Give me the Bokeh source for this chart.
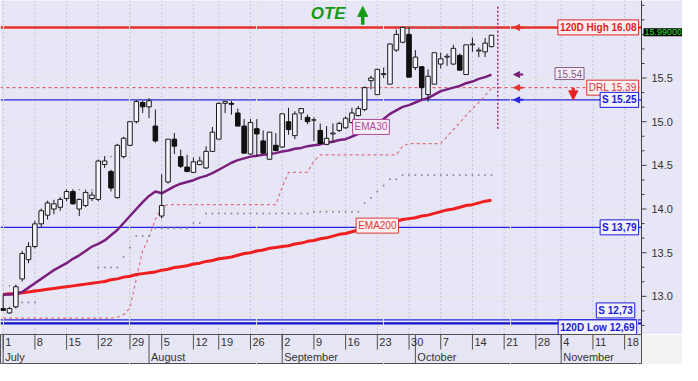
import numpy as np
from bokeh.plotting import figure
from bokeh.models import Range1d, Span, Label, Arrow, NormalHead
from bokeh.layouts import column
from bokeh.embed import file_html
from bokeh.resources import INLINE
from bokeh.core.properties import value

FONT = "Liberation Sans"
BG = "#E6E6F7"

# ---------------- data (one value per trading day, 1 Jul .. 17 Oct) ----------------
opens = [12.86, 12.81, 12.88, 13.20, 13.42, 13.57, 13.83, 13.93, 14.00, 14.02,
         14.12, 14.20, 14.00, 14.04, 14.12, 14.11, 14.51, 14.43, 14.13, 14.60,
         14.73, 15.00, 15.22, 15.17, 14.95, 13.92, 14.31, 14.80, 14.60, 14.48,
         14.42, 14.51, 14.47, 14.66, 14.80, 15.21, 15.21, 15.10, 14.95, 14.63,
         14.92, 14.78, 14.57, 14.73, 14.71, 15.00, 14.84, 15.10, 15.05, 15.02,
         14.90, 14.74, 14.86, 14.90, 14.93, 14.99, 15.07, 15.14, 15.47, 15.31,
         15.54, 15.43, 15.82, 15.91, 16.00, 15.62, 15.63, 15.31, 15.43, 15.66,
         15.74, 15.66, 15.76, 15.54, 15.88, 15.81, 15.80, 15.86]
highs = [13.02, 12.88, 13.13, 13.52, 13.62, 13.86, 14.00, 14.09, 14.10, 14.13,
         14.22, 14.22, 14.12, 14.21, 14.20, 14.56, 14.60, 14.45, 14.74, 14.82,
         15.00, 15.25, 15.24, 15.27, 15.14, 14.40, 14.80, 14.87, 14.68, 14.62,
         14.59, 14.60, 14.72, 14.94, 15.22, 15.24, 15.24, 15.15, 15.03, 15.03,
         15.03, 14.90, 14.88, 14.87, 15.09, 15.16, 15.12, 15.15, 15.08, 15.05,
         14.98, 14.95, 14.98, 15.00, 15.06, 15.16, 15.18, 15.40, 15.52, 15.60,
         15.62, 15.89, 16.05, 16.08, 16.08, 15.82, 15.63, 15.60, 15.79, 15.79,
         15.78, 15.88, 15.78, 15.88, 15.96, 15.85, 15.96, 15.99]
lows = [12.83, 12.80, 12.86, 13.17, 13.38, 13.55, 13.79, 13.88, 13.94, 13.98,
        14.09, 14.05, 13.92, 14.02, 14.09, 14.09, 14.47, 14.20, 14.12, 14.58,
        14.72, 14.98, 15.10, 15.04, 14.76, 13.89, 14.29, 14.63, 14.47, 14.42,
        14.41, 14.50, 14.46, 14.66, 14.80, 15.10, 15.08, 14.95, 14.64, 14.62,
        14.60, 14.63, 14.56, 14.66, 14.70, 14.85, 14.80, 15.02, 14.97, 14.78,
        14.75, 14.73, 14.76, 14.88, 14.92, 14.98, 15.06, 15.12, 15.37, 15.31,
        15.50, 15.43, 15.80, 15.90, 15.51, 15.59, 15.25, 15.23, 15.43, 15.61,
        15.64, 15.65, 15.59, 15.54, 15.80, 15.74, 15.74, 15.85]
closes = [12.84, 12.86, 13.11, 13.49, 13.57, 13.83, 13.98, 14.07, 14.06, 14.11,
          14.20, 14.06, 14.11, 14.19, 14.16, 14.55, 14.55, 14.24, 14.73, 14.81,
          15.00, 15.23, 15.17, 15.24, 14.78, 14.04, 14.80, 14.72, 14.49, 14.43,
          14.54, 14.55, 14.66, 14.88, 15.21, 15.23, 15.20, 14.95, 14.64, 14.99,
          14.86, 14.64, 14.88, 14.67, 15.09, 14.91, 15.09, 15.15, 15.00, 15.02,
          14.75, 14.81, 14.87, 14.98, 15.04, 15.10, 15.15, 15.39, 15.50, 15.60,
          15.55, 15.89, 16.00, 16.08, 15.51, 15.74, 15.39, 15.52, 15.79, 15.72,
          15.75, 15.84, 15.59, 15.88, 15.89, 15.82, 15.90, 15.99]
ema30 = [13.02, 13.02, 13.03, 13.05, 13.10, 13.15, 13.20, 13.25, 13.30, 13.34,
         13.38, 13.43, 13.47, 13.52, 13.57, 13.60, 13.64, 13.70, 13.76, 13.84,
         13.92, 14.00, 14.08, 14.15, 14.20, 14.18, 14.22, 14.26, 14.29, 14.31,
         14.33, 14.36, 14.38, 14.41, 14.45, 14.49, 14.53, 14.56, 14.58, 14.60,
         14.61, 14.62, 14.63, 14.64, 14.66, 14.67, 14.69, 14.70, 14.72, 14.73,
         14.74, 14.76, 14.77, 14.79, 14.80, 14.83, 14.86, 14.88, 14.94, 14.99,
         15.03, 15.09, 15.13, 15.17, 15.19, 15.22, 15.25, 15.27, 15.31, 15.35,
         15.37, 15.39, 15.41, 15.44, 15.46, 15.49, 15.51, 15.54]
ema200 = [13.02, 13.03, 13.03, 13.04, 13.05, 13.06, 13.07, 13.08, 13.09, 13.10,
          13.11, 13.12, 13.13, 13.14, 13.15, 13.16, 13.17, 13.19, 13.20, 13.22,
          13.23, 13.25, 13.26, 13.27, 13.28, 13.30, 13.31, 13.33, 13.34, 13.35,
          13.37, 13.38, 13.40, 13.41, 13.43, 13.44, 13.45, 13.47, 13.49, 13.50,
          13.52, 13.53, 13.55, 13.56, 13.57, 13.58, 13.60, 13.61, 13.63, 13.64,
          13.66, 13.67, 13.69, 13.71, 13.72, 13.74, 13.76, 13.77, 13.79, 13.81,
          13.82, 13.84, 13.86, 13.88, 13.89, 13.90, 13.92, 13.93, 13.95, 13.97,
          13.99, 14.00, 14.02, 14.04, 14.05, 14.07, 14.09, 14.10]
trail_stop = [12.75, 12.75, 12.75, 12.75, 12.75, 12.75, 12.75, 12.75, 12.75, 12.75,
              12.75, 12.75, 12.75, 12.75, 12.75, 12.75, 12.75, 12.75, 12.76, 12.79,
              12.87, 13.20, 13.52, 13.68, 13.88, 14.02, 14.05, 14.05, 14.05, 14.05,
              14.05, 14.05, 14.05, 14.05, 14.05, 14.05, 14.05, 14.05, 14.05, 14.05,
              14.05, 14.05, 14.05, 14.05, 14.25, 14.42, 14.42, 14.42, 14.42, 14.55,
              14.62, 14.62, 14.62, 14.62, 14.62, 14.62, 14.62, 14.62, 14.62, 14.62,
              14.62, 14.62, 14.62, 14.72, 14.75, 14.75, 14.75, 14.75, 14.75, 14.75,
              14.83, 14.91, 14.99, 15.07, 15.15, 15.22, 15.30, 15.38]
upper_dots = [13.12, 13.12, 13.13, 13.50, 13.60, 13.86, 14.00, 14.09, 14.10, 14.13,
              14.22, 14.22, 14.22, 14.22, 14.22, 14.56, 14.60, 14.60, 14.74, 14.82,
              15.00, 15.25, 15.25, 15.25, 15.25, 15.25, 15.25, 15.25, 15.25, 15.25,
              15.25, 15.25, 15.25, 15.25, 15.25, 15.25, 15.25, 15.25, 15.25, 15.25,
              15.25, 15.25, 15.25, 15.25, 15.25, 15.25, 15.25, 15.25, 15.25, 15.25,
              15.25, 15.25, 15.25, 15.25, 15.25, 15.25, 15.25, 15.40, 15.52, 15.60,
              15.62, 15.89, 16.05, 16.08, 16.08, 16.08, 16.08, 16.08, 16.08, 16.08,
              16.08, 16.08, 16.08, 16.08, 16.08, 16.08, 16.08, 16.08]
nan = float("nan")
lower_dots = [nan, nan, nan, 12.93, 12.93, 12.93, nan, nan, nan, nan,
              nan, nan, nan, nan, nan, 13.33, 13.33, 13.33, 13.33, 13.45,
              13.56, 13.69, 13.69, 13.69, 13.78, 13.78, 13.78, 13.78, 13.78, 13.78,
              13.84, 13.84, 13.95, 13.95, 13.95, 13.95, 13.95, 13.95, 13.95, 13.95,
              13.95, 13.95, 13.95, 13.95, 13.95, 13.95, 13.95, 13.95, 13.95, 13.97,
              13.97, 13.97, 13.97, 13.97, 13.97, 13.97, 13.97, 14.07, 14.13, 14.20,
              14.27, 14.34, 14.34, 14.39, 14.39, 14.39, 14.39, 14.39, 14.39, 14.39,
              14.39, 14.39, 14.39, 14.39, 14.39, 14.39, 14.39, 14.39]

# trading-day index of each Monday tick, and of each month's first day
week_ticks = [0, 5, 10, 15, 20, 25, 30, 34, 39, 44, 49, 54, 59, 64, 69, 74, 79, 84, 88, 93, 98]
week_labels = ["1", "8", "15", "22", "29", "5", "12", "19", "26", "2", "9", "16", "23",
               "30", "7", "14", "21", "28", "4", "11", "18"]
month_starts = [0, 23, 44, 65, 88]
month_names = ["July", "August", "September", "October", "November"]

# price axis ticks
price_ticks = [13.0, 13.5, 14.0, 14.5, 15.0, 15.5, 16.0]
price_labels = ["13.0", "13.5", "14.0", "14.5", "15.0", "15.5", ""]

# horizontal levels
high_120d = 16.08
low_120d = 12.69
drl_level = 15.39
support_levels = [15.25, 13.79, 12.73]
support_texts = ["S 15.25", "S 13,79", "S 12,73"]
high_text = "120D High 16.08"
low_text = "120D Low 12,69"
drl_text = "DRL 15.39"

# ---------------- geometry / styles ----------------
RED = "#E8302A"
BLUE = "#2424E0"
PURPLE = "#7A1F7E"
GREEN = "#169A16"
AXC = "#404040"

PLOT_W, AXIS_W, MAIN_H, STRIP_H = 641, 41, 334, 30
X_LEFT, X_AXIS = -0.42, 100.66            # left edge / price-axis position (bar units)
Y_LO, Y_HI = 12.563, 16.388
ppu = PLOT_W / (X_AXIS - X_LEFT)          # pixels per bar
X_RIGHT = X_LEFT + (PLOT_W + AXIS_W) / ppu

x = np.arange(len(opens))
o = np.array(opens)
c = np.array(closes)
up = c >= o

p = figure(frame_width=PLOT_W + AXIS_W, frame_height=MAIN_H,
           x_range=Range1d(X_LEFT, X_RIGHT), y_range=Range1d(Y_LO, Y_HI),
           x_axis_location=None, y_axis_location=None,
           toolbar_location=None, output_backend="svg",
           background_fill_color=BG, border_fill_color=BG,
           min_border=0, outline_line_color=None)

# weekly dotted grid
for t in week_ticks:
    p.add_layout(Span(location=t, dimension="height", line_color="#A9A9BF",
                      line_dash="1 3", line_width=1, level="underlay"))

# level lines (stop at the price axis)
p.segment(x0=X_LEFT, y0=high_120d, x1=X_AXIS, y1=high_120d, line_color=RED,
          line_width=2.5, level="underlay")
p.segment(x0=X_LEFT, y0=drl_level, x1=X_AXIS, y1=drl_level, line_color="#E04848",
          line_width=1, line_dash="3 3", level="underlay")
p.segment(x0=X_LEFT, y0=support_levels, x1=X_AXIS, y1=support_levels, line_color=BLUE,
          line_width=1.2, level="underlay")
p.segment(x0=X_LEFT, y0=low_120d, x1=X_AXIS, y1=low_120d, line_color="#1212CC",
          line_width=2.2, level="underlay")

# indicator lines
p.line(x, trail_stop, line_color="#E0707E", line_width=1.2, line_dash="3 3")
p.scatter(x, lower_dots, marker="circle", size=2, color="#8C8C9C", line_color=None)
p.scatter(x, upper_dots, marker="circle", size=1.6, color="#808088", line_color=None,
          level="underlay")
p.line(x, ema200, line_color="#F01E1E", line_width=3)
p.line(x, ema30, line_color=PURPLE, line_width=2.5)

# candles
p.segment(x, highs, x, lows, line_color="#1A1A1A", line_width=1)
p.vbar(x=x[up], top=c[up], bottom=o[up], width=0.72, fill_color="#F4F4FC", line_color="#1A1A1A")
p.vbar(x=x[~up], top=o[~up], bottom=c[~up], width=0.72, fill_color="#101010", line_color="#101010")

# current-bar marker
nxt = len(opens)
p.segment(x0=[nxt], y0=[14.92], x1=[nxt], y1=[16.33], line_color="#9A2A78",
          line_width=1.5, line_dash="2 2")

# price axis on the right
p.add_layout(Span(location=X_AXIS, dimension="height", line_color=AXC, line_width=1))
maj_len, min_len = 5 / ppu, 3 / ppu
minor_ticks = [t + k * 0.5 / 3 for t in [12.5] + price_ticks for k in (1, 2)]
p.segment(x0=X_AXIS, y0=price_ticks, x1=X_AXIS + maj_len, y1=price_ticks, line_color=AXC)
p.segment(x0=X_AXIS, y0=minor_ticks, x1=X_AXIS + min_len, y1=minor_ticks, line_color=AXC)
p.text(x=[X_AXIS] * len(price_ticks), y=price_ticks, text=price_labels, x_offset=10,
       text_font=value(FONT), text_font_size="11px", text_color="#333333",
       text_align="left", text_baseline="middle")


def box_label(xx, yy, text, color, fill, bold=True, align="right", baseline="middle",
              size="10px", yoff=0):
    p.add_layout(Label(x=xx, y=yy, text=text, text_color=color, text_font=FONT,
                       text_font_size=size, text_font_style="bold" if bold else "normal",
                       text_align=align, text_baseline=baseline, y_offset=yoff,
                       background_fill_color=fill, border_line_color=color,
                       border_line_width=1, padding=2))


box_label(100.2, high_120d, high_text, "#E02222", "#FBEFF2")
box_label(100.2, drl_level, drl_text, "#E03030", "#FBF0F2", bold=False)
box_label(100.2, support_levels[0], support_texts[0], "#1A1AD8", "#F2F2FC")
box_label(100.2, support_levels[1], support_texts[1], "#1A1AD8", "#F2F2FC")
box_label(99.6, support_levels[2], support_texts[2], "#1A1AD8", "#F2F2FC", baseline="bottom", yoff=2)
box_label(99.9, low_120d, low_text, "#1A1AD8", "#F2F2FC", yoff=-4)
box_label(91.6, ema30[-1], f"{ema30[-1]:.2f}", "#8A5A8A", "#F3EEF6", bold=False, yoff=1)
box_label(58, ema30[58], "EMA30", "#B04A98", "#F6EEF6", bold=False, align="center")
box_label(59, ema200[59], "EMA200", "#E03838", "#FBEFEF", bold=False, align="center")

# last price tag over the price axis
p.add_layout(Label(x=X_AXIS, x_offset=2, y=closes[-1], text=f"{closes[-1]:.5f}",
                   text_color="#2BE02B", text_font=FONT, text_font_size="9px",
                   text_baseline="middle", y_offset=3,
                   background_fill_color="#000000", padding=1))

# small left arrows at the levels
for lv, col in [(high_120d, RED), (ema30[-1], PURPLE), (drl_level, RED), (support_levels[0], BLUE)]:
    p.add_layout(Arrow(end=NormalHead(size=6, fill_color=col, line_color=col, line_width=1),
                       x_start=82.0, y_start=lv, x_end=80.5, y_end=lv,
                       line_color=col, line_width=2))

# OTE signal
p.add_layout(Label(x=48.5, y=16.235, text="OTE", text_color=GREEN, text_font=FONT,
                   text_font_size="17px", text_font_style="bold italic", text_baseline="middle"))
p.add_layout(Arrow(end=NormalHead(size=10, fill_color=GREEN, line_color=GREEN, line_width=1),
                   x_start=56.7, y_start=16.11, x_end=56.7, y_end=16.32,
                   line_color=GREEN, line_width=3.5))
p.add_layout(Arrow(end=NormalHead(size=9, fill_color="#E82020", line_color="#E82020", line_width=1),
                   x_start=89.9, y_start=15.39, x_end=89.9, y_end=15.25,
                   line_color="#E82020", line_width=3))

# ---------------- date strip ----------------
p2 = figure(frame_width=PLOT_W, frame_height=STRIP_H, x_range=Range1d(X_LEFT, X_AXIS),
            y_range=Range1d(0, 2), x_axis_location=None, y_axis_location=None,
            toolbar_location=None, output_backend="svg",
            background_fill_color=BG, border_fill_color="#F2F2F2",
            min_border_left=0, min_border_top=0, min_border_bottom=0, min_border_right=AXIS_W,
            outline_line_color="#505050")
p2.segment(x0=week_ticks, y0=[1] * len(week_ticks), x1=week_ticks, y1=[2] * len(week_ticks),
           line_color="#505050", line_width=1)
p2.segment(x0=month_starts, y0=[0] * len(month_starts), x1=month_starts, y1=[2] * len(month_starts),
           line_color="#505050", line_width=1)
p2.text(x=week_ticks, y=[1.5] * len(week_ticks), text=week_labels, text_font=value(FONT),
        text_font_size="11px", text_color="#333333", text_align="left",
        text_baseline="middle", x_offset=2)
p2.text(x=month_starts, y=[0.5] * len(month_starts), text=month_names, text_font=value(FONT),
        text_font_size="11px", text_color="#333333", text_align="left",
        text_baseline="middle", x_offset=2)

layout = column(p, p2, spacing=0)
open("out.html", "w").write(file_html(layout, INLINE))
